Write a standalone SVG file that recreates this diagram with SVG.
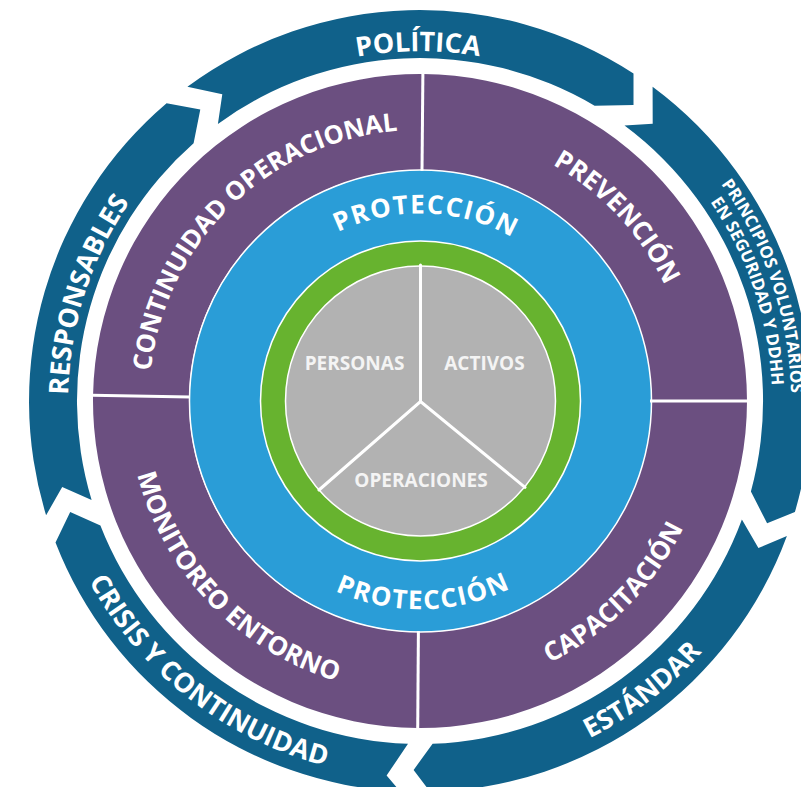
<svg xmlns="http://www.w3.org/2000/svg" width="801" height="787" viewBox="0 0 801 787">
  <defs>
    <style>
      .band { fill: #10618a; }
      .quad { fill: #6b4f80; }
      .lbl { font-family: "Open Sans", "Liberation Sans", sans-serif; font-weight: 700; fill: #ffffff; }
      .big { font-size: 27px; }
      .pur { font-size: 26px; }
      .pur2 { font-size: 25.5px; }
      .mid { font-size: 26px; letter-spacing: 1.5px; }
      .small { font-size: 17px; }
      .core { font-size: 19px; fill: #f4f4f4; }
      .div { stroke: #ffffff; stroke-width: 3; fill: none; }
    </style>
    <path id="p-politica" d="M71.2,372.3 A350,350 0 0 1 768.5,368.7"/>
    <path id="p-prin1" d="M333.4,40.2 A371,371 0 0 1 567.9,741.2"/>
    <path id="p-prin2" d="M337.8,58.7 A352,352 0 0 1 560.3,723.8"/>
    <path id="p-resp" d="M284.2,725.7 A352,352 0 0 1 497.4,57.6"/>
    <path id="p-crisis" d="M103.8,195.7 A377,377 0 0 0 695.7,658.1"/>
    <path id="p-estandar" d="M142,655.7 A377,377 0 0 0 738,198.4"/>
    <path id="p-contop" d="M210.3,572.4 A271,271 0 0 1 597.3,195.8"/>
    <path id="p-prev" d="M253.1,187.5 A271,271 0 0 1 621.4,582.3"/>
    <path id="p-capa" d="M233.5,625.7 A292,292 0 0 0 642.7,212.1"/>
    <path id="p-moni" d="M199.6,209.4 A292,292 0 0 0 603.8,627.9"/>
    <path id="p-prot1" d="M233.4,378.4 A188,188 0 0 1 607.7,390.8"/>
    <path id="p-prot2" d="M213.1,422.7 A208,208 0 0 0 627.5,415.5"/>
  </defs>

  <rect width="801" height="787" fill="#ffffff"/>

  <!-- Outer ring: arrow segments -->
  <g id="seg-politica">
    <path class="band" d="M187.4,86.7 A391,391 0 0 1 633.5,73.5 L633.5,104.9 L594.6,105.8 A343,343 0 0 0 217.9,123.9 L222.3,94.2 Z"/>
    <text class="lbl big"><textPath href="#p-politica" startOffset="50%" text-anchor="middle">POLÍTICA</textPath></text>
  </g>
  <g id="seg-principios">
    <path class="band" d="M652.6,86.7 A391,391 0 0 1 794.9,512 L767.1,523.3 L750.9,491.5 A343,343 0 0 0 624.5,125.6 L652.7,123.7 Z"/>
    <text class="lbl small"><textPath href="#p-prin1" startOffset="50%" text-anchor="middle">PRINCIPIOS VOLUNTARIOS</textPath></text>
    <text class="lbl small"><textPath href="#p-prin2" startOffset="50%" text-anchor="middle">EN SEGURIDAD Y DDHH</textPath></text>
  </g>
  <g id="seg-estandar">
    <path class="band" d="M786.9,536 A391,391 0 0 1 430.2,791.9 L413.6,769.9 L432.6,743.8 A343,343 0 0 0 741.9,519.4 L758.4,548.1 Z"/>
    <text class="lbl big"><textPath href="#p-estandar" startOffset="50%" text-anchor="middle">ESTÁNDAR</textPath></text>
  </g>
  <g id="seg-crisis">
    <path class="band" d="M400.2,791.5 A391,391 0 0 1 55.5,542.4 L70.2,512 L100.4,525.6 A343,343 0 0 0 408,743.8 L386.6,775.5 Z"/>
    <text class="lbl big"><textPath href="#p-crisis" startOffset="50%" text-anchor="middle">CRISIS Y CONTINUIDAD</textPath></text>
  </g>
  <g id="seg-responsables">
    <path class="band" d="M46.1,515.3 A391,391 0 0 1 166.6,103.3 L200.3,109.5 L193.6,143.3 A343,343 0 0 0 91.6,500.1 L62.2,486.9 Z"/>
    <text class="lbl big"><textPath href="#p-resp" startOffset="50%" text-anchor="middle">RESPONSABLES</textPath></text>
  </g>

  <!-- Purple ring quadrants -->
  <g id="q-continuidad">
    <path class="quad" d="M93.05,395.3 A327,327 0 0 1 422.9,74 L422,170 A231,231 0 0 0 189,397 Z"/>
    <text class="lbl pur2"><textPath href="#p-contop" startOffset="50%" text-anchor="middle">CONTINUIDAD OPERACIONAL</textPath></text>
  </g>
  <g id="q-prevencion">
    <path class="quad" d="M422.9,74 A327,327 0 0 1 747,401 L651,401 A231,231 0 0 0 422,170 Z"/>
    <text class="lbl pur"><textPath href="#p-prev" startOffset="50%" text-anchor="middle">PREVENCIÓN</textPath></text>
  </g>
  <g id="q-capacitacion">
    <path class="quad" d="M747,401 A327,327 0 0 1 417.7,728 L418.4,632 A231,231 0 0 0 651,401 Z"/>
    <text class="lbl pur"><textPath href="#p-capa" startOffset="50%" text-anchor="middle">CAPACITACIÓN</textPath></text>
  </g>
  <g id="q-monitoreo">
    <path class="quad" d="M417.7,728 A327,327 0 0 1 93.05,395.3 L189,397 A231,231 0 0 0 418.4,632 Z"/>
    <text class="lbl pur"><textPath href="#p-moni" startOffset="50%" text-anchor="middle">MONITOREO ENTORNO</textPath></text>
  </g>

  <!-- Protection ring -->
  <g id="proteccion">
    <circle cx="420.5" cy="401" r="231" fill="#2a9dd7" stroke="#ffffff" stroke-width="1.5"/>
    <text class="lbl mid"><textPath href="#p-prot1" startOffset="50%" text-anchor="middle">PROTECCIÓN</textPath></text>
    <text class="lbl mid"><textPath href="#p-prot2" startOffset="50%" text-anchor="middle">PROTECCIÓN</textPath></text>
  </g>
  <g id="green-ring">
    <circle cx="420.5" cy="401" r="160" fill="#67b32f" stroke="#ffffff" stroke-width="1.5"/>
  </g>

  <!-- Core -->
  <g id="core">
    <circle cx="420.5" cy="401" r="135" fill="#b2b2b2" stroke="#ffffff" stroke-width="1.5"/>
  </g>
  <g id="core-personas">
    <text class="lbl core" x="354.5" y="370" text-anchor="middle">PERSONAS</text>
  </g>
  <g id="core-activos">
    <text class="lbl core" x="484.5" y="370" text-anchor="middle">ACTIVOS</text>
  </g>
  <g id="core-operaciones">
    <text class="lbl core" x="421" y="487" text-anchor="middle">OPERACIONES</text>
  </g>

  <!-- Divider lines -->
  <g id="dividers">
    <line class="div" x1="422.9" y1="73" x2="422" y2="171"/>
    <line class="div" x1="748" y1="401" x2="650" y2="401"/>
    <line class="div" x1="417.7" y1="729" x2="418.4" y2="631"/>
    <line class="div" x1="92" y1="395.3" x2="190" y2="397"/>
    <path class="div" stroke-width="3.5" stroke-linecap="round" d="M420.5,265 L420.5,401.5 M319,490 L420.5,401.5 L525,487.3"/>
  </g>
</svg>
